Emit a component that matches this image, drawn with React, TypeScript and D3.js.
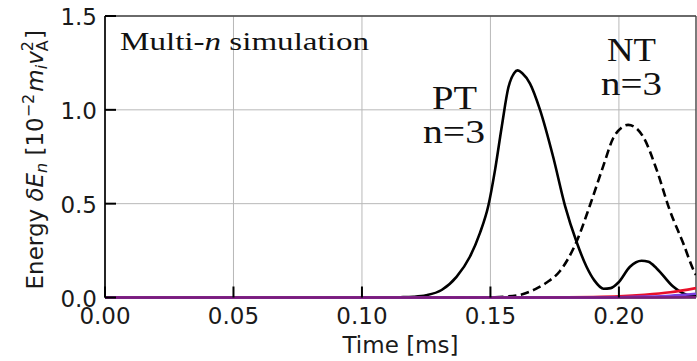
import React from "react";
import * as d3 from "d3";

const ptTime = [0, 0.05, 0.1, 0.11, 0.115, 0.12, 0.125, 0.131, 0.1368, 0.142, 0.1459, 0.1492, 0.1518, 0.1544, 0.157, 0.1592, 0.1606, 0.1624, 0.1654, 0.1693, 0.1744, 0.179, 0.1835, 0.1874, 0.1905, 0.194, 0.1968, 0.1998, 0.2043, 0.2088, 0.2115, 0.2147, 0.2211, 0.2263, 0.23];
const ptEnergy = [0, 0, 0, 0.0005, 0.0015, 0.004, 0.012, 0.04, 0.11, 0.217, 0.343, 0.49, 0.68, 0.91, 1.12, 1.195, 1.21, 1.195, 1.14, 1.0, 0.75, 0.49, 0.297, 0.164, 0.09, 0.047, 0.05, 0.08, 0.164, 0.196, 0.19, 0.155, 0.058, 0.015, 0.007];

const ntTime = [0, 0.14, 0.15, 0.155, 0.1615, 0.1675, 0.1719, 0.177, 0.1835, 0.1887, 0.1939, 0.1978, 0.201, 0.2036, 0.2065, 0.2095, 0.2147, 0.2198, 0.225, 0.2296, 0.23];
const ntEnergy = [0, 0, 0.001, 0.004, 0.014, 0.045, 0.08, 0.14, 0.297, 0.49, 0.7, 0.85, 0.905, 0.92, 0.905, 0.855, 0.68, 0.465, 0.29, 0.13, 0.12];

const redTime = [0, 0.17, 0.18, 0.19, 0.2, 0.21, 0.22, 0.23];
const redEnergy = [0, 0, 0.001, 0.003, 0.007, 0.015, 0.028, 0.05];

const violetTime = [0, 0.19, 0.2, 0.21, 0.22, 0.23];
const violetEnergy = [0, 0, 0.002, 0.005, 0.01, 0.02];

const purpleTime = [0, 0.1, 0.2, 0.23];
const purpleEnergy = [0, 0, 0, 0.001];

const xTicks = [0, 0.05, 0.1, 0.15, 0.2];
const xTickLabels = ["0.00", "0.05", "0.10", "0.15", "0.20"];
const yTicks = [0, 0.5, 1.0, 1.5];
const yTickLabels = ["0.0", "0.5", "1.0", "1.5"];

const W = 697;
const H = 361;
const L = 105;
const R = 696;
const T = 16;
const B = 297.5;

export default function App() {
  const x = d3.scaleLinear().domain([0, 0.23]).range([L, R]);
  const y = d3.scaleLinear().domain([0, 1.5]).range([B, T]);
  const line = (ts: number[], vs: number[]) =>
    d3
      .line<number>()
      .x((_, i) => x(ts[i]))
      .y((v) => y(v))
      .curve(d3.curveMonotoneX)(vs) || "";

  const sans = "DejaVu Sans";
  const serif = "Liberation Serif";

  return (
    <svg
      width={W}
      height={H}
      style={{ position: "absolute", left: 0, top: 0, background: "#fff" }}
    >
      <defs>
        <clipPath id="plot">
          <rect x={L} y={T - 2} width={R - L} height={B - T + 4} />
        </clipPath>
      </defs>
      {/* grid */}
      {xTicks.map((t) => (
        <line key={"gx" + t} x1={x(t)} x2={x(t)} y1={T} y2={B} stroke="#b8b8b8" strokeWidth={1} />
      ))}
      {yTicks.map((t) => (
        <line key={"gy" + t} x1={L} x2={R} y1={y(t)} y2={y(t)} stroke="#b8b8b8" strokeWidth={1} />
      ))}
      {/* spines */}
      <line x1={L} x2={R} y1={T} y2={T} stroke="#444" strokeWidth={1.4} />
      <line x1={R} x2={R} y1={T} y2={B} stroke="#444" strokeWidth={1.4} />
      <line x1={L} x2={L} y1={T} y2={B} stroke="#111" strokeWidth={1.8} />
      <line x1={L} x2={R} y1={B} y2={B} stroke="#111" strokeWidth={1.8} />
      <g clipPath="url(#plot)">
        <path d={line(ntTime, ntEnergy)} fill="none" stroke="#000" strokeWidth={2.6} strokeDasharray="8.5,4.5" />
        <path d={line(ptTime, ptEnergy)} fill="none" stroke="#000" strokeWidth={2.6} />
        <path d={line(redTime, redEnergy)} fill="none" stroke="#e8102a" strokeWidth={2.6} />
        <path d={line(violetTime, violetEnergy)} fill="none" stroke="#7b3fe0" strokeWidth={2.4} />
        <path d={line(purpleTime, purpleEnergy)} fill="none" stroke="#7a1d7a" strokeWidth={2.6} />
      </g>
      {/* ticks */}
      {xTicks.map((t) => (
        <line key={"tx" + t} x1={x(t)} x2={x(t)} y1={B} y2={B - 11} stroke="#000" strokeWidth={2} />
      ))}
      {yTicks.map((t) => (
        <line key={"ty" + t} x1={L} x2={L + 11} y1={y(t)} y2={y(t)} stroke="#000" strokeWidth={2} />
      ))}
      {/* tick labels */}
      {xTicks.map((t, i) => (
        <text key={"lx" + t} x={x(t)} y={B + 26} textAnchor="middle" fontFamily={sans} fontSize={23} fill="#1a1a1a">
          {xTickLabels[i]}
        </text>
      ))}
      {yTicks.map((t, i) => (
        <text key={"ly" + t} x={L - 8} y={y(t) + 9} textAnchor="end" fontFamily={sans} fontSize={23} fill="#1a1a1a">
          {yTickLabels[i]}
        </text>
      ))}
      {/* axis labels */}
      <text x={(L + R) / 2} y={353} textAnchor="middle" fontFamily={sans} fontSize={23} fill="#1a1a1a">
        Time [ms]
      </text>
      <text
        transform={`translate(43, ${(T + B) / 2 + 3}) rotate(-90)`}
        textAnchor="middle"
        fontFamily={sans}
        fontSize={23}
        fill="#1a1a1a"
      >
        <tspan>Energy </tspan>
        <tspan fontStyle="italic">δE</tspan>
        <tspan fontStyle="italic" fontSize={16} dy={4}>n</tspan>
        <tspan dy={-4}> [10</tspan>
        <tspan fontSize={16} dy={-9}>−2</tspan>
        <tspan fontStyle="italic" dy={9} dx={2}>m</tspan>
        <tspan fontStyle="italic" fontSize={16} dy={4}>i</tspan>
        <tspan fontStyle="italic" dy={-4}>v</tspan>
        <tspan fontSize={16} dy={5}>A</tspan>
        <tspan fontSize={16} dx={-11} dy={-15}>2</tspan>
        <tspan dy={10} dx={2}>]</tspan>
      </text>
      {/* annotations */}
      <text x={120} y={50} fontFamily={serif} fontSize={26} fill="#111" textLength={249} lengthAdjust="spacingAndGlyphs">
        Multi-<tspan fontStyle="italic">n</tspan> simulation
      </text>
      <text x={432} y={109} fontFamily={serif} fontSize={34} fill="#111" textLength={45} lengthAdjust="spacingAndGlyphs">PT</text>
      <text x={423} y={143} fontFamily={serif} fontSize={34} fill="#111" textLength={62} lengthAdjust="spacingAndGlyphs">n=3</text>
      <text x={607} y={61} fontFamily={serif} fontSize={34} fill="#111" textLength={49} lengthAdjust="spacingAndGlyphs">NT</text>
      <text x={601} y={95} fontFamily={serif} fontSize={34} fill="#111" textLength={61} lengthAdjust="spacingAndGlyphs">n=3</text>
    </svg>
  );
}
